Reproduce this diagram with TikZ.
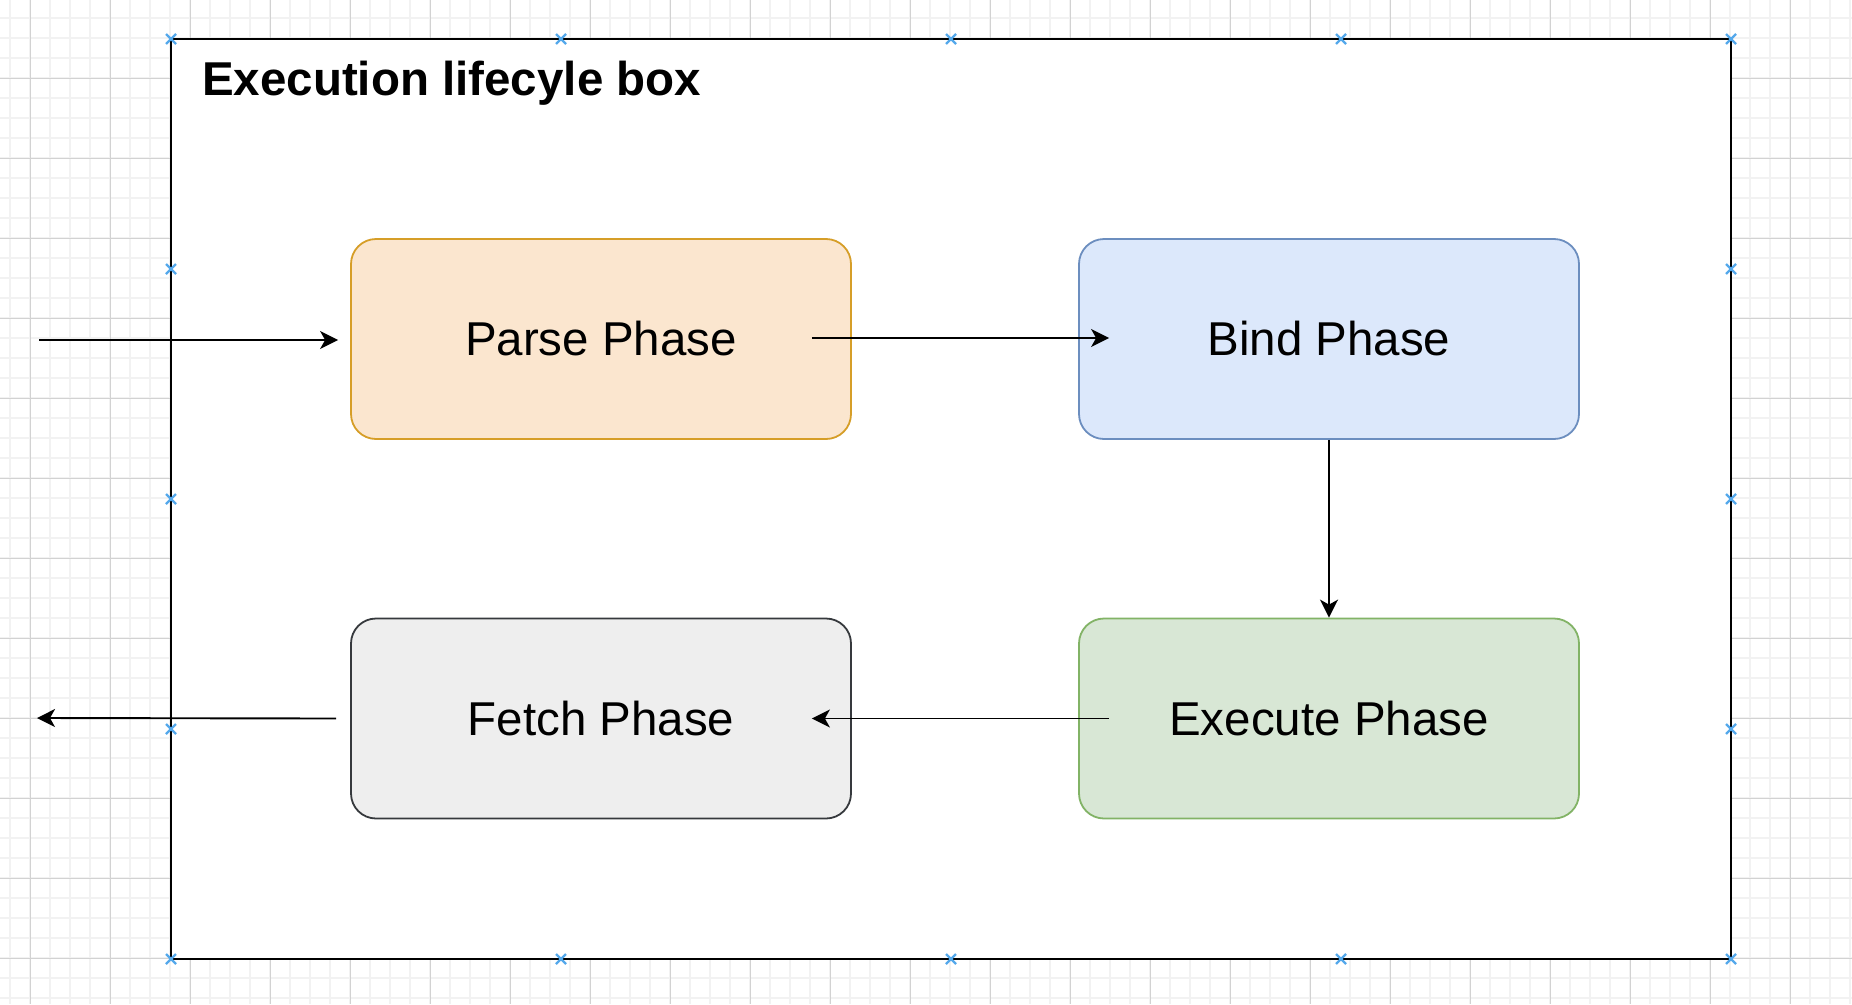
\documentclass[tikz,border=0pt]{standalone}
\usepackage{fontspec}
\setmainfont{Liberation Sans}
\usetikzlibrary{arrows.meta}
\definecolor{gridminor}{RGB}{242,242,242}
\definecolor{gridmajor}{RGB}{210,210,210}
\definecolor{cpblue}{RGB}{84,168,235}
\definecolor{parsefill}{RGB}{251,230,207}
\definecolor{parsedraw}{RGB}{214,158,40}
\definecolor{bindfill}{RGB}{220,232,251}
\definecolor{binddraw}{RGB}{108,142,191}
\definecolor{execfill}{RGB}{216,231,213}
\definecolor{execdraw}{RGB}{130,179,102}
\definecolor{fetchfill}{RGB}{238,238,238}
\definecolor{fetchdraw}{RGB}{54,57,61}
\tikzset{
  phase/.style={rectangle, rounded corners=25pt, minimum width=500pt,
    minimum height=200pt, line width=1.8pt, inner sep=0pt,
    font=\fontsize{47.5}{57}\selectfont},
  flow/.style={-{Stealth[length=18pt,width=18pt,inset=5pt]}, line width=1.9pt, black},
  cpmark/.style={cpblue, line width=2.2pt}
}
\begin{document}
\begin{tikzpicture}[x=1pt,y=-1pt]
\useasboundingbox (0,0) rectangle (1852,1004);
\fill[white] (0,0) rectangle (1852,1004);
% grid
\foreach \x in {10,30,...,1850} \draw[gridminor, line width=1.5pt] (\x,0) -- (\x,1004);
\foreach \y in {18,38,...,998} \draw[gridminor, line width=1.5pt] (0,\y) -- (1852,\y);
\foreach \x in {30,110,...,1830} \draw[gridmajor, line width=1pt] (\x,0) -- (\x,1004);
\foreach \y in {78,158,...,958} \draw[gridmajor, line width=1pt] (0,\y) -- (1852,\y);
% container
\node (lifecycle) [draw, fill=white, line width=2pt, minimum width=1560pt,
  minimum height=920pt, inner sep=0pt] at (951,499) {};
\node (title) [anchor=base west, inner sep=0pt,
  font=\fontsize{47.5}{57}\selectfont\bfseries] at (202,95) {Execution lifecyle box};
% connection markers
\foreach \x in {171,561,951,1341,1731} {
  \foreach \y in {39,959} {
    \draw[cpmark] (\x-5,\y-5) -- (\x+5,\y+5) (\x-5,\y+5) -- (\x+5,\y-5);
  }
}
\foreach \x in {171,1731} {
  \foreach \y in {269,499,729} {
    \draw[cpmark] (\x-5,\y-5) -- (\x+5,\y+5) (\x-5,\y+5) -- (\x+5,\y-5);
  }
}
% phases
\node (parse) [phase, draw=parsedraw, fill=parsefill] at (601,339) {Parse Phase};
\node (bind) [phase, draw=binddraw, fill=bindfill] at (1329,339) {Bind Phase};
\node (execute) [phase, draw=execdraw, fill=execfill] at (1329,718.5) {Execute Phase};
\node (fetch) [phase, draw=fetchdraw, fill=fetchfill] at (601,718.5) {Fetch Phase};
% connectors
\coordinate (in) at (39,340);
\coordinate (out) at (37,718);
\draw[flow] (in) -- ([xshift=-12pt,yshift=-1pt]parse.west);
\draw[flow] ([xshift=-40pt,yshift=1pt]parse.east) -- ([xshift=31pt,yshift=1pt]bind.west);
\draw[flow] (bind.south) -- (execute.north);
\draw[flow] ([xshift=31pt]execute.west) -- ([xshift=-40pt]fetch.east);
\draw[flow] ([xshift=-14pt]fetch.west) -- (out);
\end{tikzpicture}
\end{document}
